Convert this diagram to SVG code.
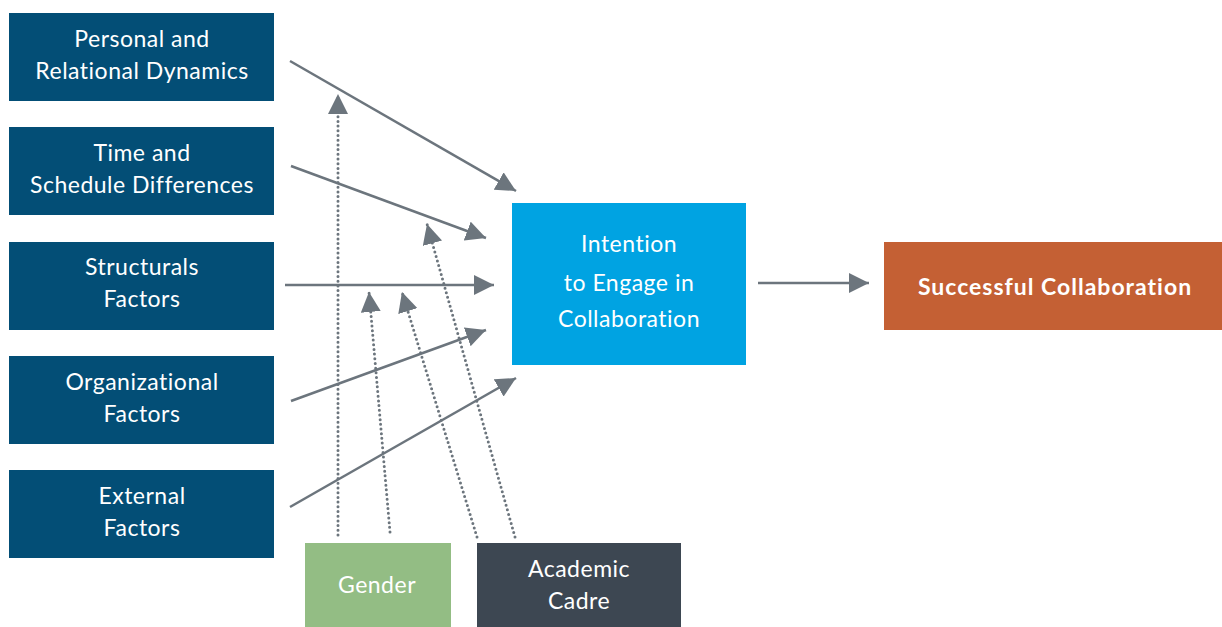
<svg xmlns="http://www.w3.org/2000/svg" width="1222" height="627" viewBox="0 0 1222 627">
<style>
.f{fill:#034e76}
.t{font-family:Lato,"Open Sans",sans-serif;font-size:23px;letter-spacing:0.5px;fill:#fff;text-anchor:middle}
.c{stroke:#6c757d;stroke-width:2.5;fill:none}
.d{stroke:#6c757d;stroke-width:3;fill:none;stroke-dasharray:0 4.7;stroke-linecap:round}
</style>
<defs>
<marker id="a" markerUnits="userSpaceOnUse" markerWidth="20" markerHeight="20" refX="16" refY="8" orient="auto" viewBox="0 0 16 16">
<path d="M0,0 L16,8 L0,16 Z" fill="#6c757d"/>
</marker>
</defs>
<rect width="1222" height="627" fill="#fff"/>
<g id="personal"><rect class="f" x="9" y="13" width="265" height="88"/><text class="t" x="142" y="47">Personal and</text><text class="t" x="142" y="79">Relational Dynamics</text></g>
<g id="time"><rect class="f" x="9" y="127" width="265" height="88"/><text class="t" x="142" y="161">Time and</text><text class="t" x="142" y="193">Schedule Differences</text></g>
<g id="structural"><rect class="f" x="9" y="242" width="265" height="88"/><text class="t" x="142" y="275">Structurals</text><text class="t" x="142" y="307">Factors</text></g>
<g id="organizational"><rect class="f" x="9" y="356" width="265" height="88"/><text class="t" x="142" y="390">Organizational</text><text class="t" x="142" y="422">Factors</text></g>
<g id="external"><rect class="f" x="9" y="470" width="265" height="88"/><text class="t" x="142" y="504">External</text><text class="t" x="142" y="536">Factors</text></g>
<g id="intention"><rect x="512" y="203" width="234" height="162" fill="#00a3e2"/><text class="t" x="629" y="252">Intention</text><text class="t" x="629" y="291">to Engage in</text><text class="t" x="629" y="327">Collaboration</text></g>
<g id="success"><rect x="884" y="242" width="338" height="88" fill="#c46034"/><text class="t" x="1055" y="295" style="font-weight:bold;letter-spacing:1px">Successful Collaboration</text></g>
<g id="gender"><rect x="305" y="543" width="146" height="84" fill="#93bd84"/><text class="t" x="377" y="593">Gender</text></g>
<g id="cadre"><rect x="477" y="543" width="204" height="84" fill="#3d4752"/><text class="t" x="579" y="577">Academic</text><text class="t" x="579" y="609">Cadre</text></g>
<g id="connectors">
<line class="c" x1="290" y1="61" x2="516" y2="191" marker-end="url(#a)"/>
<line class="c" x1="291" y1="166" x2="486" y2="238" marker-end="url(#a)"/>
<line class="c" x1="285" y1="285" x2="494" y2="285" marker-end="url(#a)"/>
<line class="c" x1="291" y1="401" x2="486" y2="330" marker-end="url(#a)"/>
<line class="c" x1="290" y1="507" x2="516" y2="378" marker-end="url(#a)"/>
<line class="c" x1="758" y1="283" x2="869" y2="283" marker-end="url(#a)"/>
<line class="d" x1="338" y1="535" x2="338" y2="94" marker-end="url(#a)"/>
<line class="d" x1="390" y1="532" x2="369" y2="292" marker-end="url(#a)"/>
<line class="d" x1="477" y1="537" x2="402" y2="292" marker-end="url(#a)"/>
<line class="d" x1="515" y1="537" x2="427" y2="224" marker-end="url(#a)"/>
</g>
</svg>
